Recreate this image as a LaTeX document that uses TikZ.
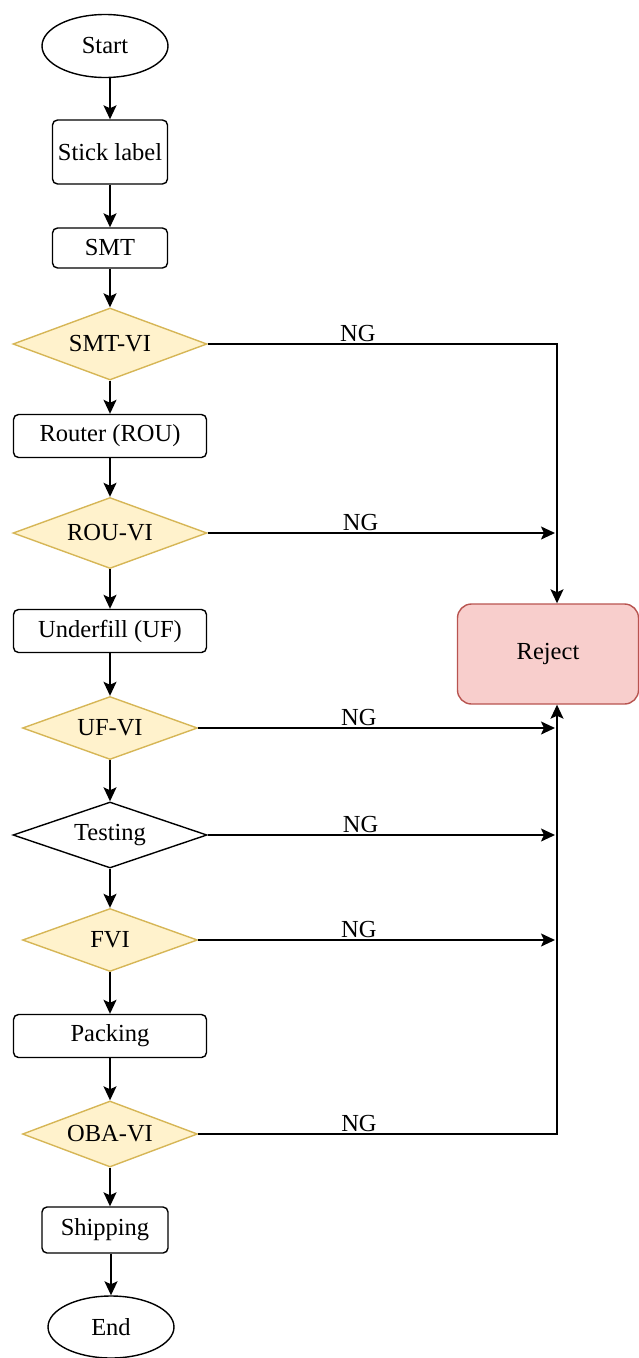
\documentclass[tikz,border=0pt]{standalone}
\usepackage{fontspec}
\setmainfont{Liberation Serif}
\usetikzlibrary{shapes.geometric,arrows.meta}

\definecolor{vifill}{HTML}{FFF2CC}
\definecolor{vidraw}{HTML}{D6B656}
\definecolor{rjfill}{HTML}{F8CECC}
\definecolor{rjdraw}{HTML}{B85450}

\tikzset{
  base/.style={font=\fontsize{24.5}{28}\selectfont, line width=1.4pt, inner sep=0pt},
  term/.style={base, ellipse, draw, minimum width=126pt, minimum height=63pt},
  proc/.style={base, rectangle, rounded corners=5pt, draw},
  check/.style={base, diamond, aspect=4, draw=vidraw, fill=vifill},
  plain check/.style={base, diamond, aspect=4, draw, fill=white},
  reject/.style={base, rectangle, rounded corners=14pt, draw=rjdraw, fill=rjfill},
  flow/.style={line width=1.7pt, -{Stealth[length=14pt,width=13pt,inset=3pt]}},
  ng/.style={font=\fontsize{24.5}{28}\selectfont, inner sep=1.5pt, above}
}

\begin{document}
\begin{tikzpicture}[x=1pt,y=-1pt]
\useasboundingbox (0,0) rectangle (639,1358);

% main column
\node[term] (start) at (105,46) {Start};
\node[proc, minimum width=115pt, minimum height=64pt] (label) at (110,152) {Stick label};
\node[proc, minimum width=115pt, minimum height=40pt] (smt) at (110,248) {SMT};
\node[check, minimum width=194pt, minimum height=72pt] (smtvi) at (110,344) {SMT-VI};
\node[proc, minimum width=193pt, minimum height=43pt] (rou) at (110,436) {Router (ROU)};
\node[check, minimum width=194pt, minimum height=71pt] (rouvi) at (110,533) {ROU-VI};
\node[proc, minimum width=193pt, minimum height=43pt] (uf) at (110,631) {Underfill (UF)};
\node[check, minimum width=175pt, minimum height=63pt] (ufvi) at (110,728) {UF-VI};
\node[plain check, minimum width=194pt, minimum height=66pt] (test) at (110,835) {Testing};
\node[check, minimum width=175pt, minimum height=63pt] (fvi) at (110,940) {FVI};
\node[proc, minimum width=193pt, minimum height=43pt] (pack) at (110,1036) {Packing};
\node[check, minimum width=175pt, minimum height=66pt] (obavi) at (110,1134) {OBA-VI};
\node[proc, minimum width=126pt, minimum height=46pt] (ship) at (105,1230) {Shipping};
\node[term, minimum height=62pt] (fin) at (111,1327) {End};

% reject box and the collecting line beside it
\node[reject, minimum width=181pt, minimum height=100pt] (rej) at (548,654) {Reject};
\coordinate (bus) at ([xshift=9pt]rej.north);
\coordinate (tip) at (555,0);

% forward flow
\draw[flow] (start.south -| label.north) -- (label);
\draw[flow] (label) -- (smt);
\draw[flow] (smt) -- (smtvi);
\draw[flow] (smtvi) -- (rou);
\draw[flow] (rou) -- (rouvi);
\draw[flow] (rouvi) -- (uf);
\draw[flow] (uf) -- (ufvi);
\draw[flow] (ufvi) -- (test);
\draw[flow] (test) -- (fvi);
\draw[flow] (fvi) -- (pack);
\draw[flow] (pack) -- (obavi);
\draw[flow] (obavi.south) -- (obavi.south |- ship.north);
\draw[flow] (ship.south -| fin.north) -- (fin);

% rejected branches
\draw[flow] (smtvi.east) -| node[ng, pos=0.215] {NG} (bus);
\draw[flow] (rouvi.east) -- node[ng, pos=0.44] {NG} (rouvi.east -| tip);
\draw[flow] (ufvi.east) -- node[ng, pos=0.45] {NG} (ufvi.east -| tip);
\draw[flow] (test.east) -- node[ng, pos=0.44] {NG} (test.east -| tip);
\draw[flow] (fvi.east) -- node[ng, pos=0.45] {NG} (fvi.east -| tip);
\draw[flow] (obavi.east) -| node[ng, pos=0.224] {NG} ([xshift=9pt]rej.south);
\end{tikzpicture}
\end{document}
